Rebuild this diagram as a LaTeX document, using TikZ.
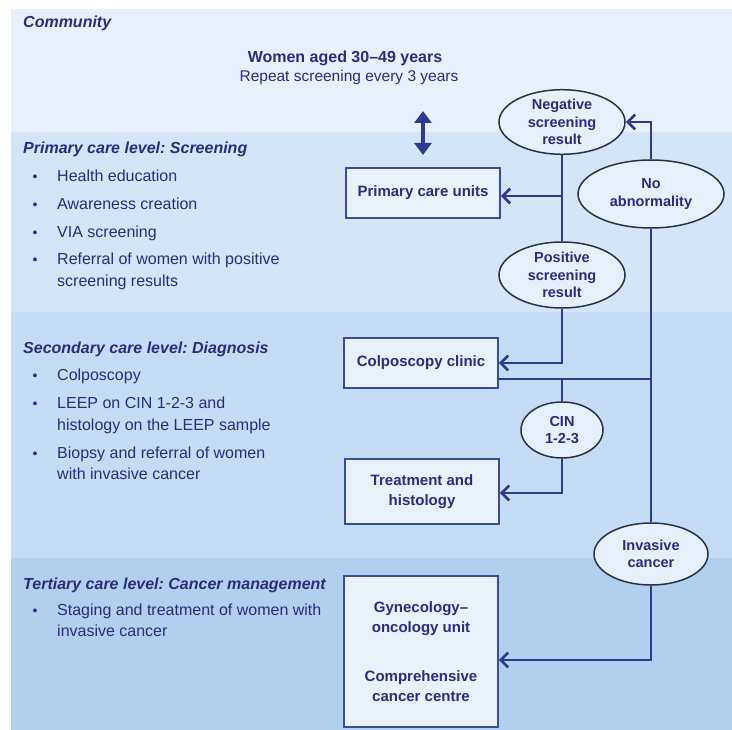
\documentclass[tikz,border=0pt]{standalone}
\usepackage{fontspec}
\setmainfont{Liberation Sans}
\usetikzlibrary{shapes.geometric,arrows.meta}
\definecolor{txt}{HTML}{2B2C7C}
\definecolor{ln}{HTML}{2E3A92}
\definecolor{boxedge}{HTML}{3B4A9B}
\definecolor{ovaledge}{HTML}{2A2F4A}
\definecolor{boxfill}{HTML}{E9F2FB}
\definecolor{ovalfill}{HTML}{E6F0FA}
\definecolor{bandcom}{HTML}{E7F1FB}
\definecolor{bandpri}{HTML}{D3E5F7}
\definecolor{bandsec}{HTML}{C5DDF4}
\definecolor{bandter}{HTML}{B1D0EE}
\frenchspacing
\begin{document}
\begin{tikzpicture}[x=1pt,y=-1pt,
  head/.style={anchor=base west, inner sep=0, text=txt, font=\bfseries\itshape\fontsize{16}{20}\selectfont},
  itemtext/.style={anchor=base west, inner sep=0, text=txt, align=left, font=\fontsize{16}{21.5}\selectfont},
  bul/.style={anchor=base, inner sep=0, text=txt, font=\fontsize{14}{16}\selectfont},
  box/.style={draw=boxedge, line width=1.5pt, fill=boxfill, text=txt, align=center, inner sep=0,
    minimum width=154pt, font=\bfseries\fontsize{15}{19.5}\selectfont},
  oval/.style={ellipse, draw=ovaledge, line width=1.5pt, fill=ovalfill, text=txt, align=center, inner sep=0,
    font=\bfseries\fontsize{14.5}{17.5}\selectfont},
  conn/.style={draw=ln, line width=2.7pt},
  arr/.style={conn, -{Straight Barb[length=7.5pt,width=15pt]}}
]
\useasboundingbox (0,0) rectangle (732,730);
\fill[white] (0,0) rectangle (732,730);
\fill[bandcom] (11,9) rectangle (732,132);
\fill[bandpri] (11,132) rectangle (732,312);
\fill[bandsec] (11,312) rectangle (732,558);
\fill[bandter] (11,558) rectangle (732,730);

% left column
\node[head] (hcom) at (23,28) {Community};
\node[head] (hpri) at (23,154) {Primary care level: Screening};
\node[bul] (b1) at (35,182) {•};
\node[itemtext] (p1) at (57,182) {Health education};
\node[bul] (b2) at (35,210) {•};
\node[itemtext] (p2) at (57,210) {Awareness creation};
\node[bul] (b3) at (35,238) {•};
\node[itemtext] (p3) at (57,238) {VIA screening};
\node[bul] (b4) at (35,265) {•};
\node[itemtext] (p4) at (57,286.5) {Referral of women with positive\\screening results};

\node[head] (hsec) at (23,354) {Secondary care level: Diagnosis};
\node[bul] (b5) at (35,381) {•};
\node[itemtext] (s1) at (57,381) {Colposcopy};
\node[bul] (b6) at (35,409) {•};
\node[itemtext] (s2) at (57,430.5) {LEEP on CIN 1-2-3 and\\histology on the LEEP sample};
\node[bul] (b7) at (35,458) {•};
\node[itemtext] (s3) at (57,479.5) {Biopsy and referral of women\\with invasive cancer};

\node[head] (hter) at (23,589) {Tertiary care level: Cancer management};
\node[bul] (b8) at (35,615) {•};
\node[itemtext] (t1) at (57,636.5) {Staging and treatment of women with\\invasive cancer};

% community text
\node[anchor=base, inner sep=0, text=txt, font=\bfseries\fontsize{16}{20}\selectfont] (women) at (345,63) {Women aged 30–49 years};
\node[anchor=base, inner sep=0, text=txt, font=\fontsize{15.5}{20}\selectfont] (repeat) at (349,82) {Repeat screening every 3 years};
\coordinate (da1) at (423,111);
\coordinate (da2) at (423,155);
\draw[ln, line width=4pt, {Triangle[length=12pt,width=17pt]}-{Triangle[length=12pt,width=17pt]}] (da1) -- (da2);

% boxes
\node[box, minimum height=50pt] (pcu) at (423,193) {Primary care units};
\node[box, minimum height=50pt] (col) at (421,363) {Colposcopy clinic};
\node[box, minimum height=65pt] (trt) at (422,491.5) {Treatment and\\histology};
\node[box, minimum height=151pt, font=\bfseries\fontsize{15}{20}\selectfont] (gyn) at (421,651.5) {Gynecology–\\oncology unit\\[29pt]Comprehensive\\cancer centre};

% ovals
\node[oval, minimum width=126pt, minimum height=64pt] (neg) at (562,122) {Negative\\screening\\result};
\node[oval, minimum width=126pt, minimum height=66pt] (pos) at (562,275) {Positive\\screening\\result};
\node[oval, minimum width=146pt, minimum height=68pt] (noab) at (651,194) {No\\abnormality};
\node[oval, minimum width=82pt, minimum height=56pt] (cin) at (562,430) {CIN\\1-2-3};
\node[oval, minimum width=114pt, minimum height=62pt] (inv) at (651,554) {Invasive\\cancer};

% connectors
\coordinate (jp) at (562,196);
\coordinate (colr) at (498,379);
\draw[conn] (neg.south) -- (pos.north);
\draw[arr] (jp) -- (jp -| pcu.east);
\draw[arr] (noab.north) |- (neg.east);
\draw[conn] (noab.south) -- (inv.north);
\draw[arr] (pos.south) |- (col.east);
\draw[conn] (colr) -- (colr -| noab.south);
\draw[conn] (colr -| cin.north) -- (cin.north);
\draw[arr] (cin.south) |- ([yshift=-1.5pt]trt.east);
\draw[arr] (inv.south) |- ([yshift=-8.5pt]gyn.east);
\end{tikzpicture}
\end{document}
